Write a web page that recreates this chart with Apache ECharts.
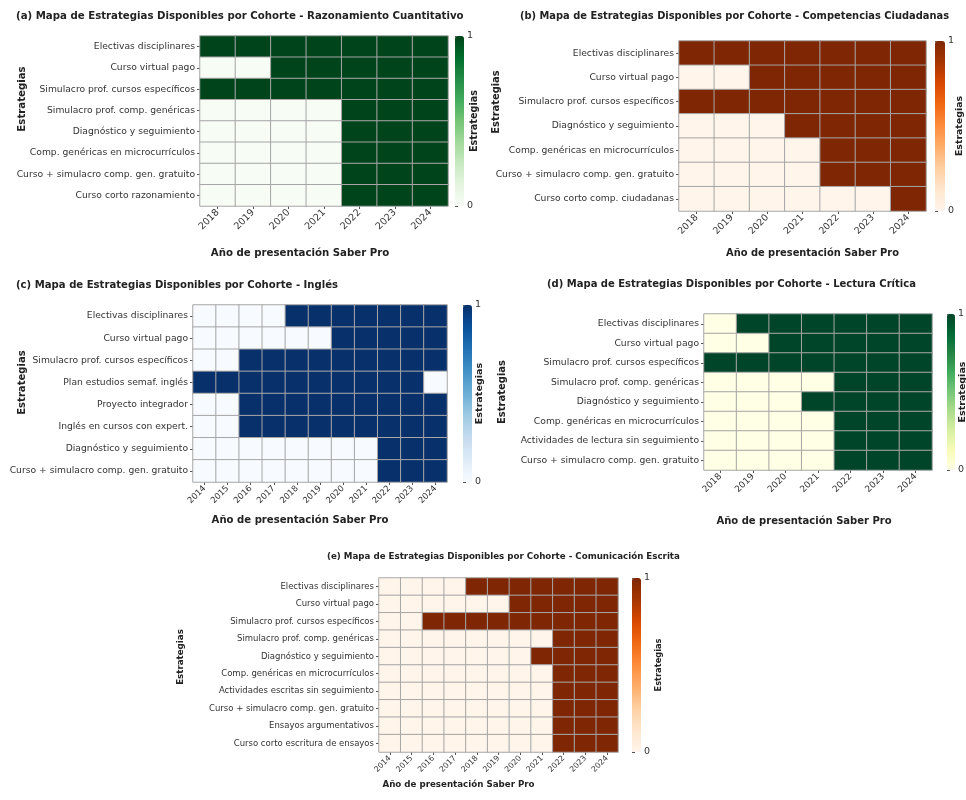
<!DOCTYPE html>
<html>
<head>
<meta charset="utf-8">
<script src="https://cdn.jsdelivr.net/npm/echarts@6/dist/echarts.min.js"></script>
<style>
  html, body { margin: 0; padding: 0; background: #ffffff; }
  #chart { width: 966px; height: 800px; }
</style>
</head>
<body>
<div id="chart"></div>
<script>
// Cohort years (x axis)
const years2018 = ['2018', '2019', '2020', '2021', '2022', '2023', '2024'];
const years2014 = ['2014', '2015', '2016', '2017', '2018', '2019', '2020', '2021', '2022', '2023', '2024'];

// (a) Razonamiento Cuantitativo
const strategiesA = [
  'Electivas disciplinares',
  'Curso virtual pago',
  'Simulacro prof. cursos específicos',
  'Simulacro prof. comp. genéricas',
  'Diagnóstico y seguimiento',
  'Comp. genéricas en microcurrículos',
  'Curso + simulacro comp. gen. gratuito',
  'Curso corto razonamiento'
];
const availA = [
  [1, 1, 1, 1, 1, 1, 1],
  [0, 0, 1, 1, 1, 1, 1],
  [1, 1, 1, 1, 1, 1, 1],
  [0, 0, 0, 0, 1, 1, 1],
  [0, 0, 0, 0, 1, 1, 1],
  [0, 0, 0, 0, 1, 1, 1],
  [0, 0, 0, 0, 1, 1, 1],
  [0, 0, 0, 0, 1, 1, 1]
];

// (b) Competencias Ciudadanas
const strategiesB = [
  'Electivas disciplinares',
  'Curso virtual pago',
  'Simulacro prof. cursos específicos',
  'Diagnóstico y seguimiento',
  'Comp. genéricas en microcurrículos',
  'Curso + simulacro comp. gen. gratuito',
  'Curso corto comp. ciudadanas'
];
const availB = [
  [1, 1, 1, 1, 1, 1, 1],
  [0, 0, 1, 1, 1, 1, 1],
  [1, 1, 1, 1, 1, 1, 1],
  [0, 0, 0, 1, 1, 1, 1],
  [0, 0, 0, 0, 1, 1, 1],
  [0, 0, 0, 0, 1, 1, 1],
  [0, 0, 0, 0, 0, 0, 1]
];

// (c) Inglés
const strategiesC = [
  'Electivas disciplinares',
  'Curso virtual pago',
  'Simulacro prof. cursos específicos',
  'Plan estudios semaf. inglés',
  'Proyecto integrador',
  'Inglés en cursos con expert.',
  'Diagnóstico y seguimiento',
  'Curso + simulacro comp. gen. gratuito'
];
const availC = [
  [0, 0, 0, 0, 1, 1, 1, 1, 1, 1, 1],
  [0, 0, 0, 0, 0, 0, 1, 1, 1, 1, 1],
  [0, 0, 1, 1, 1, 1, 1, 1, 1, 1, 1],
  [1, 1, 1, 1, 1, 1, 1, 1, 1, 1, 0],
  [0, 0, 1, 1, 1, 1, 1, 1, 1, 1, 1],
  [0, 0, 1, 1, 1, 1, 1, 1, 1, 1, 1],
  [0, 0, 0, 0, 0, 0, 0, 0, 1, 1, 1],
  [0, 0, 0, 0, 0, 0, 0, 0, 1, 1, 1]
];

// (d) Lectura Crítica
const strategiesD = [
  'Electivas disciplinares',
  'Curso virtual pago',
  'Simulacro prof. cursos específicos',
  'Simulacro prof. comp. genéricas',
  'Diagnóstico y seguimiento',
  'Comp. genéricas en microcurrículos',
  'Actividades de lectura sin seguimiento',
  'Curso + simulacro comp. gen. gratuito'
];
const availD = [
  [0, 1, 1, 1, 1, 1, 1],
  [0, 0, 1, 1, 1, 1, 1],
  [1, 1, 1, 1, 1, 1, 1],
  [0, 0, 0, 0, 1, 1, 1],
  [0, 0, 0, 1, 1, 1, 1],
  [0, 0, 0, 0, 1, 1, 1],
  [0, 0, 0, 0, 1, 1, 1],
  [0, 0, 0, 0, 1, 1, 1]
];

// (e) Comunicación Escrita
const strategiesE = [
  'Electivas disciplinares',
  'Curso virtual pago',
  'Simulacro prof. cursos específicos',
  'Simulacro prof. comp. genéricas',
  'Diagnóstico y seguimiento',
  'Comp. genéricas en microcurrículos',
  'Actividades escritas sin seguimiento',
  'Curso + simulacro comp. gen. gratuito',
  'Ensayos argumentativos',
  'Curso corto escritura de ensayos'
];
const availE = [
  [0, 0, 0, 0, 1, 1, 1, 1, 1, 1, 1],
  [0, 0, 0, 0, 0, 0, 1, 1, 1, 1, 1],
  [0, 0, 1, 1, 1, 1, 1, 1, 1, 1, 1],
  [0, 0, 0, 0, 0, 0, 0, 0, 1, 1, 1],
  [0, 0, 0, 0, 0, 0, 0, 1, 1, 1, 1],
  [0, 0, 0, 0, 0, 0, 0, 0, 1, 1, 1],
  [0, 0, 0, 0, 0, 0, 0, 0, 1, 1, 1],
  [0, 0, 0, 0, 0, 0, 0, 0, 1, 1, 1],
  [0, 0, 0, 0, 0, 0, 0, 0, 1, 1, 1],
  [0, 0, 0, 0, 0, 0, 0, 0, 1, 1, 1]
];

// Sequential colour ramps
const GREENS = ['#f7fcf5', '#e5f5e0', '#c7e9c0', '#a1d99b', '#74c476', '#41ab5d', '#238b45', '#006d2c', '#00441b'];
const ORANGES = ['#fff5eb', '#fee6ce', '#fdd0a2', '#fdae6b', '#fd8d3c', '#f16913', '#d94801', '#a63603', '#7f2704'];
const BLUES = ['#f7fbff', '#deebf7', '#c6dbef', '#9ecae1', '#6baed6', '#4292c6', '#2171b5', '#08519c', '#08306b'];
const YLGN = ['#ffffe5', '#f7fcb9', '#d9f0a3', '#addd8e', '#78c679', '#41ab5d', '#238443', '#006837', '#004529'];

const FONT = 'DejaVu Sans';
const X_NAME = 'Año de presentación Saber Pro';
const Y_NAME = 'Estrategias';

const panels = [
  {
    title: '(a) Mapa de Estrategias Disponibles por Cohorte - Razonamiento Cuantitativo',
    titlePos: { left: 16, top: 11 }, titleSize: 10.2,
    years: years2018, rows: strategiesA, values: availA, colors: GREENS,
    grid: { left: 200, top: 36, width: 248, height: 170 },
    bar: { left: 455, top: 36, width: 9, height: 170 },
    labelSize: 9.2, xLabelSize: 9.6, xGap: 42, xShift: -24, yGap: 173, yShift: -22, barGap: 5
  },
  {
    title: '(b) Mapa de Estrategias Disponibles por Cohorte - Competencias Ciudadanas',
    titlePos: { left: 520, top: 11 }, titleSize: 9.9,
    years: years2018, rows: strategiesB, values: availB, colors: ORANGES,
    grid: { left: 679, top: 41, width: 247, height: 170 },
    bar: { left: 935, top: 41, width: 10, height: 170 },
    labelSize: 9.2, xLabelSize: 9.4, xGap: 37, xShift: 10, yGap: 178, yShift: -24, barGap: 10
  },
  {
    title: '(c) Mapa de Estrategias Disponibles por Cohorte - Inglés',
    titlePos: { left: 16, top: 280 }, titleSize: 10.1,
    years: years2014, rows: strategiesC, values: availC, colors: BLUES,
    grid: { left: 193, top: 305, width: 254, height: 177 },
    bar: { left: 463, top: 305, width: 9, height: 177 },
    labelSize: 9.2, xLabelSize: 8.5, xGap: 33, xShift: -20, yGap: 166, yShift: -11, barGap: 3
  },
  {
    title: '(d) Mapa de Estrategias Disponibles por Cohorte - Lectura Crítica',
    titlePos: { left: 547, top: 279 }, titleSize: 10,
    years: years2018, rows: strategiesD, values: availD, colors: YLGN,
    grid: { left: 704, top: 314, width: 228, height: 156 },
    bar: { left: 947, top: 314, width: 8, height: 156 },
    labelSize: 9.2, xLabelSize: 9, xGap: 46, xShift: -14, yGap: 197, yShift: 0, barGap: 3
  },
  {
    title: '(e) Mapa de Estrategias Disponibles por Cohorte - Comunicación Escrita',
    titlePos: { left: 327, top: 552 }, titleSize: 8.7,
    years: years2014, rows: strategiesE, values: availE, colors: ORANGES,
    grid: { left: 379, top: 578, width: 239, height: 174 },
    bar: { left: 632, top: 578, width: 9, height: 174 },
    labelSize: 8.5, xLabelSize: 7.8, xGap: 28, xShift: -40, yGap: 194, yShift: -8, barGap: 14
  }
];

const option = {
  animation: false,
  backgroundColor: '#ffffff',
  textStyle: { fontFamily: FONT, color: '#333333' },
  title: [], grid: [], xAxis: [], yAxis: [], series: [], visualMap: []
};

panels.forEach((p, i) => {
  const heatIdx = option.grid.length;
  const barIdx = heatIdx + 1;

  option.title.push({
    text: p.title,
    left: p.titlePos.left, top: p.titlePos.top, padding: 0,
    textStyle: { fontFamily: FONT, fontSize: p.titleSize, fontWeight: 'bold', color: '#222222' }
  });

  // heatmap grid
  option.grid.push(Object.assign({ outerBoundsMode: 'none', containLabel: false }, p.grid));
  // colour-bar axis grid
  option.grid.push(Object.assign({ outerBoundsMode: 'none', containLabel: false }, p.bar));

  option.xAxis.push({
    gridIndex: heatIdx, type: 'category', data: p.years,
    axisLine: { show: false },
    axisTick: { show: true, alignWithLabel: true, length: 3, lineStyle: { color: '#555555' } },
    axisLabel: { rotate: 45, fontSize: p.xLabelSize, margin: 5, color: '#333333', interval: 0 },
    splitLine: { show: false },
    name: X_NAME, nameLocation: 'middle', nameGap: p.xGap, nameMoveOverlap: false,
    nameTextStyle: {
      fontSize: p.titleSize, fontWeight: 'bold', color: '#222222',
      padding: p.xShift < 0 ? [0, -2 * p.xShift, 0, 0] : [0, 0, 0, 2 * p.xShift]
    }
  });
  option.yAxis.push({
    gridIndex: heatIdx, type: 'category', data: p.rows, inverse: true,
    axisLine: { show: false },
    axisTick: { show: true, alignWithLabel: true, length: 3, lineStyle: { color: '#555555' } },
    axisLabel: { fontSize: p.labelSize, margin: 5, color: '#333333', interval: 0 },
    splitLine: { show: false },
    name: Y_NAME, nameLocation: 'middle', nameGap: p.yGap, nameRotate: 90, nameMoveOverlap: false,
    nameTextStyle: {
      fontSize: p.titleSize, fontWeight: 'bold', color: '#222222',
      padding: p.yShift < 0 ? [0, 0, 0, -2 * p.yShift] : [0, 2 * p.yShift, 0, 0]
    }
  });

  // colour-bar scale: ticks 0 and 1 on the right side
  option.xAxis.push({ gridIndex: barIdx, type: 'value', show: false, min: 0, max: 1 });
  option.yAxis.push({
    gridIndex: barIdx, type: 'value', min: 0, max: 1, interval: 1, position: 'right',
    axisLine: { show: false },
    axisTick: { show: true, length: 3, lineStyle: { color: '#555555' } },
    axisLabel: { fontSize: 9.5, margin: 3, color: '#333333' },
    splitLine: { show: false },
    name: Y_NAME, nameLocation: 'middle', nameGap: p.barGap, nameRotate: 90, nameMoveOverlap: false,
    nameTextStyle: { fontSize: p.titleSize * 0.95, fontWeight: 'bold', color: '#222222' }
  });

  const data = [];
  p.values.forEach((row, r) => row.forEach((v, c) => data.push([c, r, v])));

  option.series.push({
    type: 'heatmap', xAxisIndex: heatIdx, yAxisIndex: heatIdx, data,
    itemStyle: { borderColor: '#a6a6a6', borderWidth: 1 },
    emphasis: { disabled: true }
  });

  option.visualMap.push({
    type: 'continuous', seriesIndex: i, min: 0, max: 1,
    calculable: false, orient: 'vertical', padding: 0,
    left: p.bar.left, top: p.bar.top,
    itemWidth: p.bar.width, itemHeight: p.bar.height,
    text: null, showLabel: false, hoverLink: false,
    inRange: { color: p.colors }
  });
});

const chart = echarts.init(document.getElementById('chart'), null, { renderer: 'canvas' });
chart.setOption(option);
</script>
</body>
</html>
